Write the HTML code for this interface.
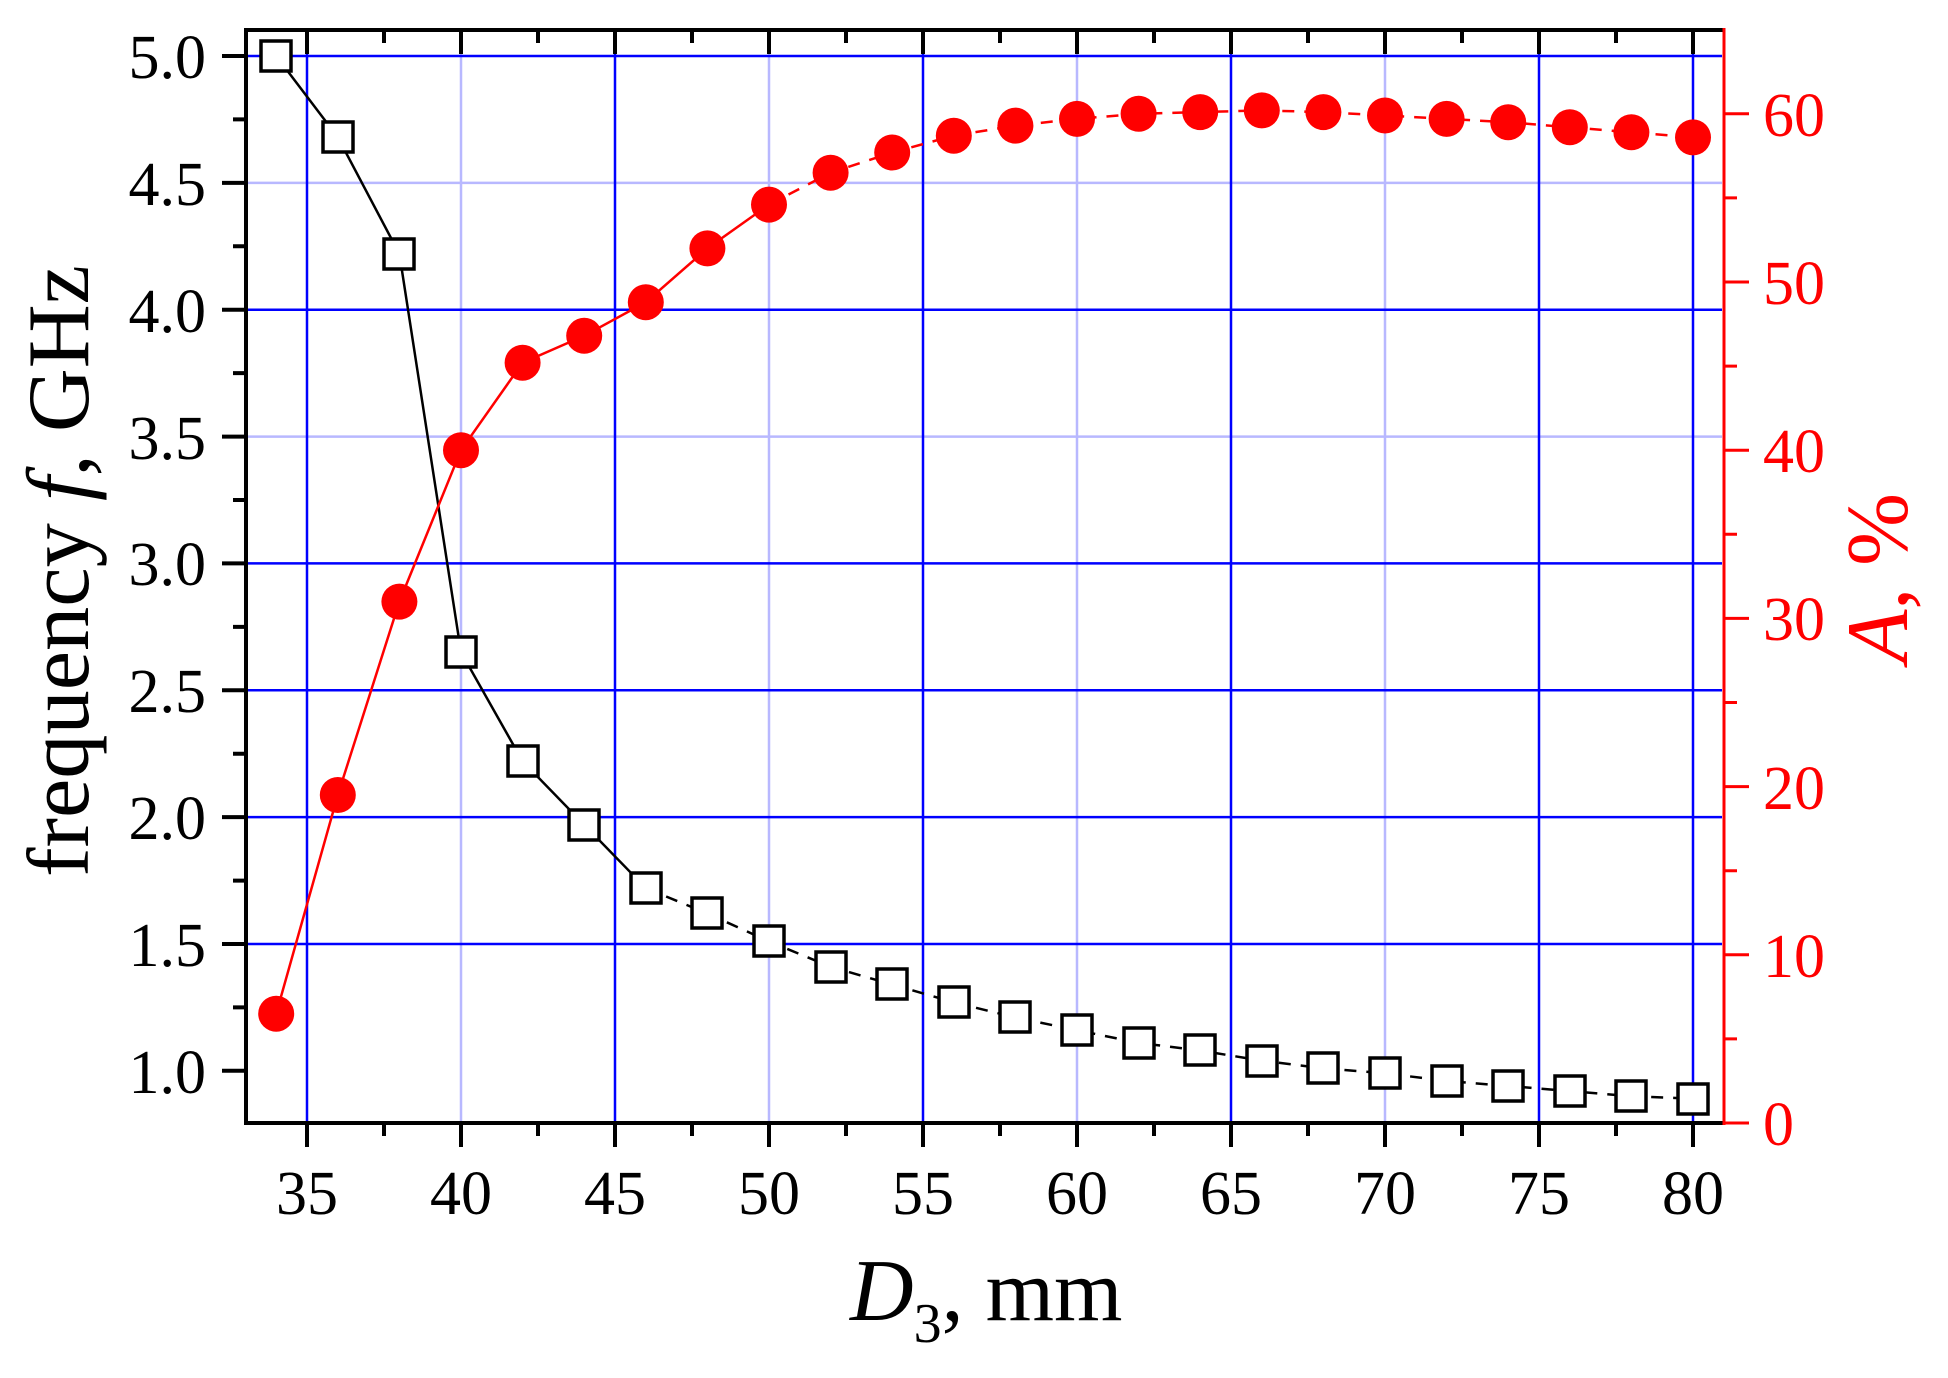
<!DOCTYPE html>
<html><head><meta charset="utf-8"><style>html,body{margin:0;padding:0;background:#fff}svg{display:block}svg text{font-family:"Liberation Serif","Times New Roman",serif}</style></head>
<body>
<svg width="1948" height="1378" viewBox="0 0 1948 1378" xmlns="http://www.w3.org/2000/svg" font-family="'Liberation Serif', serif">
<g stroke-width="2.5">
<g stroke="#b8b8ff">
<line x1="461" y1="32" x2="461" y2="1121"/><line x1="769" y1="32" x2="769" y2="1121"/>
<line x1="1077" y1="32" x2="1077" y2="1121"/><line x1="1385" y1="32" x2="1385" y2="1121"/>
<line x1="248" y1="182.9" x2="1722" y2="182.9"/><line x1="248" y1="436.6" x2="1722" y2="436.6"/>
</g>
<g stroke="#0000ff">
<line x1="307" y1="32" x2="307" y2="1121"/><line x1="615" y1="32" x2="615" y2="1121"/>
<line x1="923" y1="32" x2="923" y2="1121"/><line x1="1231" y1="32" x2="1231" y2="1121"/>
<line x1="1539" y1="32" x2="1539" y2="1121"/><line x1="1693" y1="32" x2="1693" y2="1121"/>
<line x1="248" y1="56" x2="1722" y2="56"/><line x1="248" y1="309.7" x2="1722" y2="309.7"/>
<line x1="248" y1="563.4" x2="1722" y2="563.4"/><line x1="248" y1="690.3" x2="1722" y2="690.3"/>
<line x1="248" y1="817.1" x2="1722" y2="817.1"/><line x1="248" y1="944" x2="1722" y2="944"/>
</g>
</g>
<g stroke="#000" stroke-width="4" fill="none">
<line x1="246" y1="30" x2="1724" y2="30"/>
<line x1="246" y1="28" x2="246" y2="1125"/>
<line x1="244" y1="1123" x2="1724" y2="1123"/>
</g>
<line x1="1724" y1="28" x2="1724" y2="1125" stroke="#f00" stroke-width="3"/>
<g stroke="#000" stroke-width="4">
<path d="M307 1123v24M461 1123v24M615 1123v24M769 1123v24M923 1123v24M1077 1123v24M1231 1123v24M1385 1123v24M1539 1123v24M1693 1123v24"/>
<path d="M384 1123v13M538 1123v13M692 1123v13M846 1123v13M1000 1123v13M1154 1123v13M1308 1123v13M1462 1123v13M1616 1123v13"/>
<path d="M307 30v24M461 30v24M615 30v24M769 30v24M923 30v24M1077 30v24M1231 30v24M1385 30v24M1539 30v24M1693 30v24"/>
<path d="M384 30v13M538 30v13M692 30v13M846 30v13M1000 30v13M1154 30v13M1308 30v13M1462 30v13M1616 30v13"/>
<path d="M246 56h-24M246 182.9h-24M246 309.7h-24M246 436.6h-24M246 563.4h-24M246 690.3h-24M246 817.1h-24M246 944h-24M246 1070.8h-24"/>
<path d="M246 119.4h-13M246 246.3h-13M246 373.1h-13M246 500h-13M246 626.9h-13M246 753.7h-13M246 880.6h-13M246 1007.4h-13"/>
</g>
<g stroke="#f00" stroke-width="3">
<path d="M1724 1123h25M1724 954.8h25M1724 786.6h25M1724 618.4h25M1724 450.2h25M1724 282h25M1724 113.8h25"/>
<path d="M1724 1038.9h13M1724 870.7h13M1724 702.5h13M1724 534.3h13M1724 366.1h13M1724 197.9h13"/>
</g>
<g font-size="62" fill="#000" text-anchor="end">
<text x="206" y="78">5.0</text><text x="206" y="205">4.5</text><text x="206" y="332">4.0</text>
<text x="206" y="459">3.5</text><text x="206" y="585">3.0</text><text x="206" y="712">2.5</text>
<text x="206" y="839">2.0</text><text x="206" y="966">1.5</text><text x="206" y="1093">1.0</text>
</g>
<g font-size="62" fill="#000" text-anchor="middle">
<text x="307" y="1214">35</text><text x="461" y="1214">40</text><text x="615" y="1214">45</text>
<text x="769" y="1214">50</text><text x="923" y="1214">55</text><text x="1077" y="1214">60</text>
<text x="1231" y="1214">65</text><text x="1385" y="1214">70</text><text x="1539" y="1214">75</text>
<text x="1693" y="1214">80</text>
</g>
<g font-size="62" fill="#f00">
<text x="1763" y="1145">0</text><text x="1763" y="977">10</text><text x="1763" y="809">20</text>
<text x="1763" y="640">30</text><text x="1763" y="472">40</text><text x="1763" y="304">50</text>
<text x="1763" y="136">60</text>
</g>
<text x="850" y="1320" font-size="88" fill="#000"><tspan font-style="italic">D</tspan><tspan font-size="56" dy="22">3</tspan><tspan dy="-22">, mm</tspan></text>
<text transform="translate(88,877) rotate(-90)" font-size="88" fill="#000" textLength="612" lengthAdjust="spacingAndGlyphs">frequency <tspan font-style="italic">f</tspan>, GHz</text>
<text transform="translate(1907,663) rotate(-90)" font-size="88" fill="#f00" textLength="170" lengthAdjust="spacingAndGlyphs"><tspan font-style="italic">A</tspan>, %</text>
<g fill="none" stroke="#000" stroke-width="2.5">
<polyline points="276.2,56 337.8,137.2 399.4,253.9 461,652.2 522.6,761.3 584.2,824.7 645.8,888.1"/>
<polyline stroke-dasharray="12,10" points="645.8,888.1 707.4,913.5 769,941.4 830.6,966.8 892.2,984.5 953.8,1002.3 1015.4,1017.5 1077,1030.2 1138.6,1042.9 1200.2,1050.5 1261.8,1060.7 1323.4,1068.3 1385,1073.3 1446.6,1081 1508.2,1086 1569.8,1091.1 1631.4,1096.2 1693,1098.7"/>
</g>
<g fill="#fff" stroke="#000" stroke-width="3.5">
<rect x="261" y="41" width="30" height="30"/><rect x="323" y="122" width="30" height="30"/>
<rect x="384" y="239" width="30" height="30"/><rect x="446" y="637" width="30" height="30"/>
<rect x="508" y="746" width="30" height="30"/><rect x="569" y="810" width="30" height="30"/>
<rect x="631" y="873" width="30" height="30"/><rect x="692" y="898" width="30" height="30"/>
<rect x="754" y="926" width="30" height="30"/><rect x="816" y="952" width="30" height="30"/>
<rect x="877" y="969" width="30" height="30"/><rect x="939" y="987" width="30" height="30"/>
<rect x="1000" y="1002" width="30" height="30"/><rect x="1062" y="1015" width="30" height="30"/>
<rect x="1124" y="1028" width="30" height="30"/><rect x="1185" y="1035" width="30" height="30"/>
<rect x="1247" y="1046" width="30" height="30"/><rect x="1308" y="1053" width="30" height="30"/>
<rect x="1370" y="1058" width="30" height="30"/><rect x="1432" y="1066" width="30" height="30"/>
<rect x="1493" y="1071" width="30" height="30"/><rect x="1555" y="1076" width="30" height="30"/>
<rect x="1616" y="1081" width="30" height="30"/><rect x="1678" y="1084" width="30" height="30"/>
</g>
<g fill="none" stroke="#f00" stroke-width="2.5">
<polyline points="276.2,1013.7 337.8,795 399.4,601.6 461,450.2 522.6,362.7 584.2,335.8 645.8,302.2 707.4,248.4 769,204.6"/>
<polyline stroke-dasharray="12,10" points="769,204.6 830.6,172.7 892.2,152.5 953.8,135.7 1015.4,125.6 1077,118.9 1138.6,113.8 1200.2,112.1 1261.8,110.4 1323.4,112.1 1385,115.5 1446.6,118.9 1508.2,122.2 1569.8,127.3 1631.4,132.3 1693,137.4"/>
</g>
<g fill="#f00">
<circle cx="276.2" cy="1013.7" r="18"/><circle cx="337.8" cy="795" r="18"/><circle cx="399.4" cy="601.6" r="18"/>
<circle cx="461" cy="450.2" r="18"/><circle cx="522.6" cy="362.7" r="18"/><circle cx="584.2" cy="335.8" r="18"/>
<circle cx="645.8" cy="302.2" r="18"/><circle cx="707.4" cy="248.4" r="18"/><circle cx="769" cy="204.6" r="18"/>
<circle cx="830.6" cy="172.7" r="18"/><circle cx="892.2" cy="152.5" r="18"/><circle cx="953.8" cy="135.7" r="18"/>
<circle cx="1015.4" cy="125.6" r="18"/><circle cx="1077" cy="118.9" r="18"/><circle cx="1138.6" cy="113.8" r="18"/>
<circle cx="1200.2" cy="112.1" r="18"/><circle cx="1261.8" cy="110.4" r="18"/><circle cx="1323.4" cy="112.1" r="18"/>
<circle cx="1385" cy="115.5" r="18"/><circle cx="1446.6" cy="118.9" r="18"/><circle cx="1508.2" cy="122.2" r="18"/>
<circle cx="1569.8" cy="127.3" r="18"/><circle cx="1631.4" cy="132.3" r="18"/><circle cx="1693" cy="137.4" r="18"/>
</g>
</svg>
</body></html>
